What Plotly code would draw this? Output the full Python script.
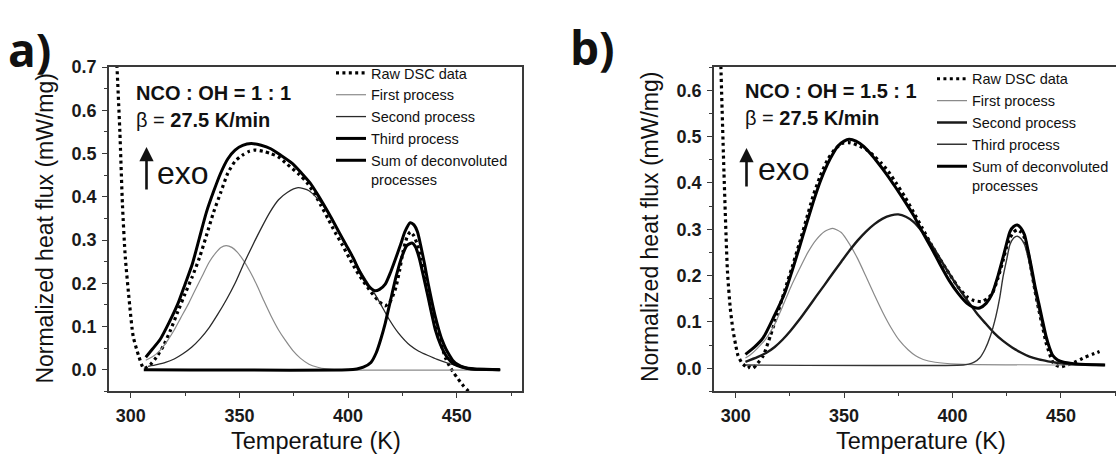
import plotly.graph_objects as go

# ---------------- data: panel a (NCO:OH = 1:1) ----------------
a_raw_T = [293.5, 295.0, 296.2, 297.5, 299.5, 301.1, 303.6, 306.0, 309.0, 311.8, 315.0, 318.4,
           321.7, 325.0, 328.3, 331.6, 334.8, 338.1, 341.4, 344.7, 348.0, 351.3, 354.5, 357.0,
           361.0, 364.4, 367.7, 372.0, 377.6, 381.0, 384.2, 387.5, 390.8, 394.0, 397.3, 400.6,
           403.9, 407.2, 410.5, 413.8, 417.0, 419.0, 420.5, 422.0, 423.7, 425.3, 427.0, 428.6,
           430.2, 431.9, 433.5, 435.2, 436.8, 438.4, 440.0, 441.7, 443.3, 445.0, 446.7, 448.3,
           450.0, 451.6, 453.2, 454.9, 456.5]
a_raw_v = [0.72, 0.55, 0.38, 0.26, 0.15, 0.078, 0.033, 0.003, 0.012, 0.029, 0.055, 0.093,
           0.135, 0.176, 0.215, 0.259, 0.31, 0.364, 0.41, 0.455, 0.482, 0.496, 0.505, 0.508,
           0.505, 0.500, 0.493, 0.475, 0.451, 0.433, 0.41, 0.38, 0.349, 0.318, 0.289, 0.258,
           0.228, 0.203, 0.180, 0.160, 0.148, 0.155, 0.17, 0.191, 0.23, 0.274, 0.305, 0.319,
           0.31, 0.289, 0.255, 0.214, 0.175, 0.138, 0.105, 0.078, 0.05, 0.025, 0.008, -0.005,
           -0.017, -0.028, -0.038, -0.047, -0.055]

a_sum_T = [306.9, 310.0, 313.5, 317.5, 321.7, 325.0, 328.3, 331.6, 334.8, 338.1, 341.4, 344.7,
           348.0, 351.5, 355.4, 360.0, 364.4, 369.0, 374.3, 378.5, 382.5, 386.0, 389.1, 392.5,
           395.7, 399.0, 402.3, 405.0, 407.2, 409.5, 412.2, 414.5, 417.1, 419.5, 422.0, 424.2,
           426.1, 428.6, 430.3, 431.9, 433.5, 435.2, 436.8, 438.4, 440.0, 441.7, 443.3, 445.0,
           446.7, 448.3, 450.5, 453.2, 458.0, 463.0, 469.7]
a_sum_v = [0.029, 0.048, 0.07, 0.108, 0.153, 0.198, 0.244, 0.305, 0.364, 0.412, 0.455, 0.488,
           0.508, 0.519, 0.523, 0.519, 0.511, 0.496, 0.477, 0.455, 0.432, 0.405, 0.379, 0.349,
           0.319, 0.289, 0.259, 0.23, 0.21, 0.193, 0.183, 0.186, 0.198, 0.225, 0.259, 0.29,
           0.319, 0.34, 0.335, 0.319, 0.285, 0.244, 0.2, 0.161, 0.125, 0.093, 0.068, 0.048,
           0.033, 0.021, 0.012, 0.006, 0.002, 0.001, 0.0]

a_first_T = [306.9, 310.0, 313.5, 317.0, 320.0, 323.0, 326.6, 330.0, 333.0, 336.0, 339.0, 341.5,
             343.9, 346.5, 349.0, 352.0, 355.0, 358.0, 361.2, 364.5, 368.0, 371.0, 374.5, 378.0,
             382.0, 386.0, 390.0, 395.0, 470.0]
a_first_v = [0.022, 0.03, 0.045, 0.068, 0.092, 0.12, 0.153, 0.188, 0.218, 0.248, 0.27, 0.283,
             0.287, 0.283, 0.272, 0.252, 0.226, 0.196, 0.16, 0.125, 0.092, 0.069, 0.045, 0.027,
             0.013, 0.006, 0.002, 0.0, 0.0]

a_second_T = [308.0, 312.0, 316.0, 320.0, 324.0, 328.0, 332.0, 336.0, 340.0, 344.0, 348.0, 352.0,
              356.0, 360.0, 364.0, 368.0, 372.0, 377.0, 382.0, 387.5, 391.5, 395.7, 399.8, 403.9,
              408.0, 412.2, 415.5, 418.7, 423.0, 428.6, 432.5, 436.8, 441.0, 446.7, 453.0, 460.0,
              470.0]
a_second_v = [0.008, 0.012, 0.017, 0.025, 0.037, 0.052, 0.072, 0.097, 0.128, 0.162, 0.2, 0.245,
              0.287, 0.327, 0.364, 0.393, 0.41, 0.421, 0.414, 0.387, 0.356, 0.319, 0.281, 0.244,
              0.209, 0.176, 0.147, 0.118, 0.086, 0.056, 0.043, 0.033, 0.024, 0.014, 0.006, 0.002,
              0.0]

a_third_T = [306.0, 400.0, 404.0, 407.0, 410.5, 413.0, 415.0, 417.1, 419.5, 422.0, 424.5, 427.0,
             429.4, 431.0, 432.7, 434.5, 436.8, 438.5, 440.1, 442.5, 445.0, 447.5, 450.0, 455.0,
             460.0, 470.0]
a_third_v = [0.0, 0.0, 0.002, 0.006, 0.017, 0.04, 0.07, 0.108, 0.16, 0.214, 0.258, 0.287,
             0.293, 0.284, 0.259, 0.22, 0.168, 0.128, 0.093, 0.058, 0.033, 0.018, 0.01, 0.003,
             0.001, 0.0]

# ---------------- data: panel b (NCO:OH = 1.5:1) ----------------
b_raw_T = [293.0, 294.6, 296.2, 297.5, 298.7, 300.0, 301.1, 302.8, 304.5, 305.5, 306.5, 308.0,
           310.0, 312.7, 316.0, 319.3, 322.6, 326.0, 329.2, 332.5, 335.8, 339.0, 342.4, 345.7,
           349.0, 352.0, 354.0, 357.2, 360.5, 363.8, 367.1, 370.5, 373.8, 378.0, 382.0, 386.0,
           390.2, 394.3, 398.5, 402.5, 406.7, 410.0, 413.4, 416.0, 418.3, 421.0, 423.3, 425.0,
           426.5, 428.2, 429.9, 431.5, 433.2, 434.8, 436.4, 438.0, 439.8, 441.5, 443.1, 444.7,
           446.3, 448.0, 449.7, 453.0, 456.2, 459.0, 461.2, 464.5, 467.8]
b_raw_v = [0.68, 0.422, 0.21, 0.13, 0.084, 0.05, 0.027, 0.012, 0.004, 0.0, 0.003, 0.0,
           0.01, 0.027, 0.07, 0.118, 0.168, 0.218, 0.267, 0.32, 0.373, 0.415, 0.45, 0.472,
           0.485, 0.487, 0.485, 0.479, 0.471, 0.458, 0.443, 0.424, 0.401, 0.37, 0.337, 0.303,
           0.267, 0.235, 0.204, 0.176, 0.154, 0.146, 0.144, 0.15, 0.161, 0.195, 0.232, 0.262,
           0.281, 0.294, 0.299, 0.294, 0.281, 0.25, 0.211, 0.168, 0.126, 0.09, 0.056, 0.032,
           0.013, 0.006, 0.003, 0.007, 0.013, 0.019, 0.024, 0.03, 0.036]

b_sum_T = [304.5, 308.5, 312.7, 317.5, 322.6, 326.0, 329.2, 332.5, 335.8, 339.0, 342.4, 345.0,
           347.3, 350.0, 352.3, 355.5, 358.9, 362.2, 365.5, 369.7, 373.8, 378.0, 382.0, 386.0,
           390.2, 394.3, 398.5, 402.5, 406.7, 410.0, 412.5, 415.5, 418.3, 421.0, 423.3, 425.0,
           426.5, 428.2, 429.9, 431.5, 433.2, 434.8, 436.4, 438.0, 439.8, 441.5, 443.1, 444.7,
           446.3, 448.5, 451.3, 456.0, 461.2, 470.4]
b_sum_v = [0.03, 0.045, 0.066, 0.11, 0.162, 0.21, 0.258, 0.309, 0.359, 0.403, 0.441, 0.464,
           0.48, 0.49, 0.494, 0.49, 0.479, 0.463, 0.444, 0.418, 0.39, 0.36, 0.33, 0.295,
           0.26, 0.224, 0.189, 0.162, 0.14, 0.131, 0.13, 0.14, 0.161, 0.2, 0.239, 0.27,
           0.295, 0.306, 0.309, 0.303, 0.288, 0.255, 0.218, 0.178, 0.14, 0.103, 0.07, 0.045,
           0.027, 0.018, 0.013, 0.01, 0.008, 0.007]

b_first_T = [304.5, 306.5, 310.0, 314.0, 318.0, 321.7, 325.5, 329.4, 333.3, 337.1, 341.0, 344.8,
             348.7, 352.5, 356.3, 360.1, 364.0, 367.8, 371.6, 375.5, 379.5, 383.0, 386.5, 392.0,
             402.0, 470.0]
b_first_v = [0.022, 0.028, 0.043, 0.064, 0.095, 0.134, 0.176, 0.214, 0.25, 0.277, 0.295, 0.302,
             0.293, 0.268, 0.236, 0.198, 0.158, 0.121, 0.088, 0.06, 0.04, 0.027, 0.019, 0.013,
             0.009, 0.007]

b_second_T = [304.5, 310.0, 314.0, 318.0, 321.7, 325.5, 329.4, 333.3, 337.1, 341.0, 344.8, 348.7,
              352.5, 356.3, 360.1, 364.0, 367.8, 371.6, 375.0, 378.5, 382.0, 386.0, 390.2, 394.3,
              398.5, 402.5, 406.7, 411.0, 415.0, 419.0, 423.3, 427.5, 431.5, 435.5, 439.8, 444.0,
              448.0, 455.0, 462.0, 470.0]
b_second_v = [0.014, 0.024, 0.033, 0.046, 0.062, 0.082, 0.105, 0.13, 0.155, 0.18, 0.205, 0.23,
              0.254, 0.276, 0.295, 0.311, 0.323, 0.33, 0.332, 0.327, 0.316, 0.295, 0.267, 0.236,
              0.204, 0.175, 0.147, 0.12, 0.098, 0.077, 0.059, 0.045, 0.034, 0.025, 0.019, 0.015,
              0.012, 0.009, 0.008, 0.007]

b_third_T = [304.5, 405.0, 407.5, 410.0, 412.5, 415.0, 417.5, 420.0, 421.7, 423.3, 425.0, 426.5,
             428.2, 429.9, 431.5, 433.2, 434.8, 436.4, 438.0, 439.8, 441.5, 443.1, 444.7, 446.3,
             448.5, 451.3, 455.0, 470.0]
b_third_v = [0.007, 0.007, 0.009, 0.013, 0.022, 0.041, 0.07, 0.112, 0.15, 0.197, 0.235, 0.267,
             0.281, 0.285, 0.28, 0.267, 0.24, 0.204, 0.165, 0.126, 0.092, 0.063, 0.043, 0.027,
             0.016, 0.01, 0.008, 0.007]

legend_names = ["Raw DSC data", "First process", "Second process", "Third process",
                "Sum of deconvoluted<br>processes"]
x_ticks = [300, 350, 400, 450]
a_y_ticks = [0.0, 0.1, 0.2, 0.3, 0.4, 0.5, 0.6, 0.7]
b_y_ticks = [0.0, 0.1, 0.2, 0.3, 0.4, 0.5, 0.6]

# ---------------- figure ----------------
W, H = 1116, 455
def px(x):
    return x / W
def py(y):
    return 1 - y / H

FONT = "Liberation Sans, Arial, sans-serif"
DOT = "3px,3.4px"

fig = go.Figure()

def add_panel(xa, ya, leg, series, styles):
    for name, (T, v), st in zip(legend_names, series, styles):
        fig.add_trace(go.Scatter(
            x=T, y=v, mode="lines", name=name, xaxis=xa, yaxis=ya, legend=leg,
            line=dict(shape="spline", smoothing=0.6, **st), hoverinfo="skip"))

styles_a = [dict(color="#000000", width=3.2, dash=DOT),
            dict(color="#8a8a8a", width=1.2),
            dict(color="#2a2a2a", width=1.3),
            dict(color="#000000", width=3.0),
            dict(color="#000000", width=3.0)]
styles_b = [dict(color="#000000", width=3.2, dash=DOT),
            dict(color="#8a8a8a", width=1.2),
            dict(color="#1a1a1a", width=2.4),
            dict(color="#333333", width=1.4),
            dict(color="#000000", width=3.0)]

add_panel("x", "y", "legend",
          [(a_raw_T, a_raw_v), (a_first_T, a_first_v), (a_second_T, a_second_v),
           (a_third_T, a_third_v), (a_sum_T, a_sum_v)], styles_a)
add_panel("x2", "y2", "legend2",
          [(b_raw_T, b_raw_v), (b_first_T, b_first_v), (b_second_T, b_second_v),
           (b_third_T, b_third_v), (b_sum_T, b_sum_v)], styles_b)

tickfont = dict(family=FONT, size=18, color="#1a1a1a", weight="bold")
axis_common = dict(showline=True, linecolor="#3a3a3a", linewidth=1.5, ticks="outside",
                   ticklen=5, tickwidth=1.3, tickcolor="#3a3a3a", tickfont=tickfont,
                   showgrid=False, zeroline=False, ticklabelstandoff=2)
xminor = dict(dtick=25, tick0=300, ticks="outside", ticklen=3, tickcolor="#3a3a3a")
yminor = dict(dtick=0.05, tick0=0, ticks="outside", ticklen=3, tickcolor="#3a3a3a")
legfont = dict(family=FONT, size=14.5, color="#111")

ydom = [py(390), py(58.3)]
fig.update_layout(
    width=W, height=H, margin=dict(l=0, r=0, t=0, b=0),
    paper_bgcolor="white", plot_bgcolor="white", showlegend=True,
    xaxis=dict(domain=[px(109), px(522)], range=[290, 480], tickvals=x_ticks,
               mirror=True, anchor="y", minor=xminor, **axis_common),
    yaxis=dict(domain=ydom, range=[-0.05, 0.7], tickvals=a_y_ticks, tickformat=".1f",
               mirror=True, anchor="x", minor=yminor, **axis_common),
    xaxis2=dict(domain=[px(714), 1.0], range=[290, 475.4], tickvals=x_ticks,
                mirror=True, anchor="y2", minor=xminor, **axis_common),
    yaxis2=dict(domain=ydom, range=[-0.05, 0.65], tickvals=b_y_ticks, tickformat=".1f",
                mirror=False, anchor="x2", minor=yminor, **axis_common),
    legend=dict(x=px(331), y=py(48), xanchor="left", yanchor="top", bgcolor="rgba(0,0,0,0)",
                borderwidth=0, font=legfont, valign="top", tracegroupgap=0,
                itemclick=False, itemdoubleclick=False),
    legend2=dict(x=px(932), y=py(54), xanchor="left", yanchor="top", bgcolor="rgba(0,0,0,0)",
                 borderwidth=0, font=legfont, valign="top", tracegroupgap=0,
                 itemclick=False, itemdoubleclick=False),
)

ann = []
def text(x, y, s, size, bold=False, xanchor="left", yanchor="middle", angle=0, family=FONT):
    ann.append(dict(x=px(x), y=py(y), xref="paper", yref="paper", text=s, showarrow=False,
                    xanchor=xanchor, yanchor=yanchor, textangle=angle,
                    font=dict(family=family, size=size, color="#111",
                              weight="bold" if bold else "normal")))

# panel labels
text(6, 40, "a)", 46, bold=True, family="Open Sans, Liberation Sans, sans-serif")
text(568, 38, "b)", 46, bold=True, family="Open Sans, Liberation Sans, sans-serif")
# axis titles
text(45.5, 223, "Normalized heat flux (mW/mg)", 23, xanchor="center", angle=-90)
text(650, 222, "Normalized heat flux (mW/mg)", 23, xanchor="center", angle=-90)
text(315.5, 441, "Temperature (K)", 23.5, xanchor="center")
text(921, 441, "Temperature (K)", 23.5, xanchor="center")
# in-plot texts
text(134, 85, "<b>NCO : OH = 1 : 1</b>", 20)
text(134, 112, "β = <b>27.5 K/min</b>", 20)
text(155, 167, "exo", 32)
text(743, 83, "<b>NCO : OH = 1.5 : 1</b>", 20)
text(743, 110, "β = <b>27.5 K/min</b>", 20)
text(756, 163, "exo", 32)
# up arrows
for xa, ytop, ybot in [(146.5, 140, 184), (746.5, 141, 181)]:
    ann.append(dict(x=px(xa), y=py(ytop), xref="paper", yref="paper", text="",
                    showarrow=True, ax=0, ay=ybot - ytop, axref="pixel", ayref="pixel",
                    arrowhead=2, arrowsize=1.1, arrowwidth=2.6, arrowcolor="#111"))
fig.update_layout(annotations=ann)

post = ("document.documentElement.style.margin='0';document.body.style.margin='0';"
        "document.body.style.overflow='hidden';"
        "var d=document.getElementById('{plot_id}');"
        "d.style.position='fixed';d.style.left='0px';d.style.top='0px';")
fig.write_html("out.html", post_script=post, config={"displayModeBar": False})
